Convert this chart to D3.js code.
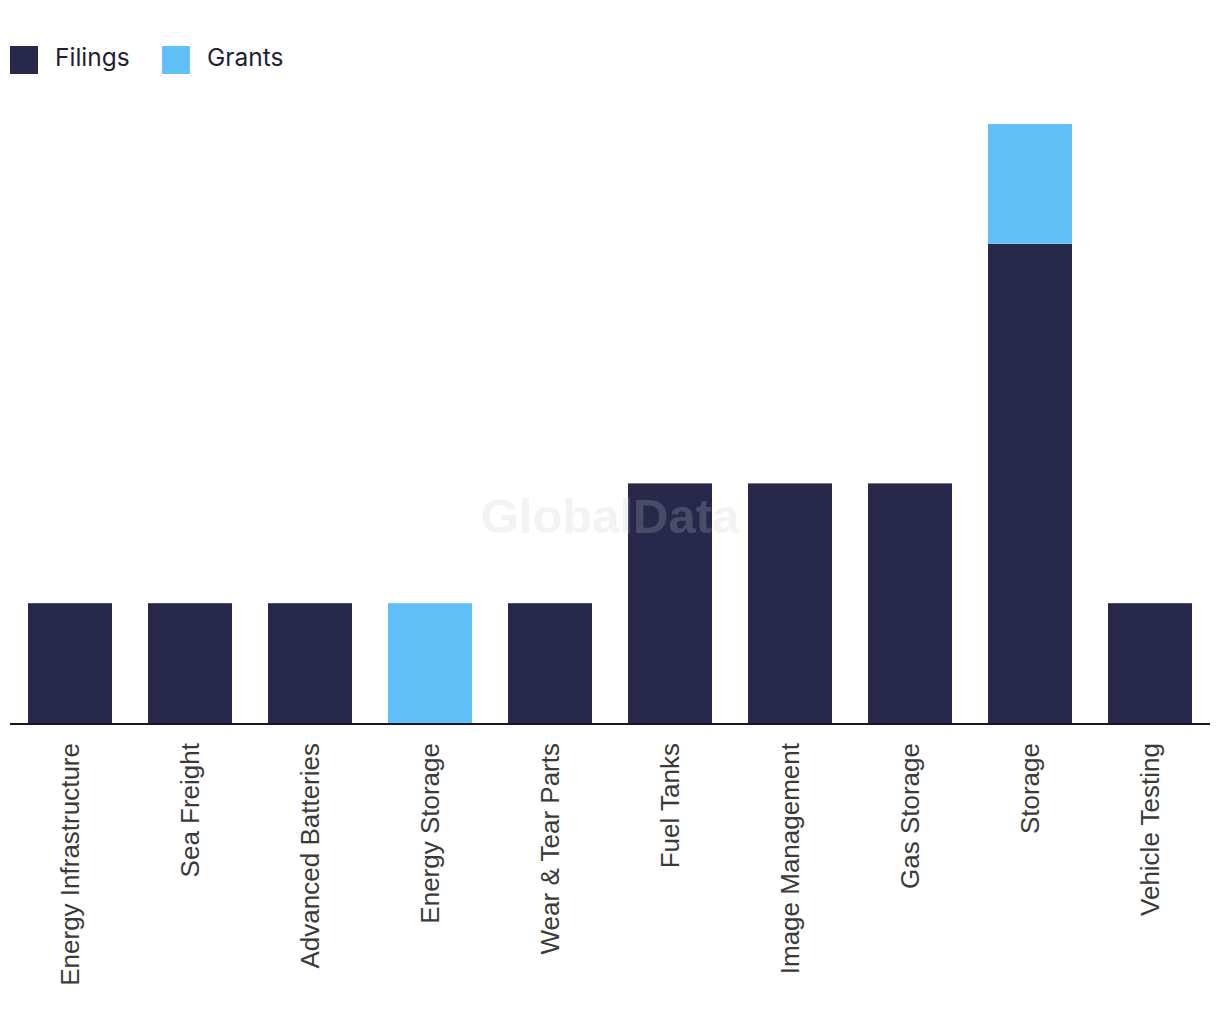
<!DOCTYPE html>
<html>
<head>
<meta charset="utf-8">
<script src="https://cdn.jsdelivr.net/npm/d3@7"></script>
<style>
  body { margin: 0; background: #fff; }
  svg { display: block; }
</style>
</head>
<body>
<svg id="chart" width="1220" height="1036"></svg>
<script>
const categories = ["Energy Infrastructure", "Sea Freight", "Advanced Batteries", "Energy Storage", "Wear & Tear Parts", "Fuel Tanks", "Image Management", "Gas Storage", "Storage", "Vehicle Testing"];
const filings = [1, 1, 1, 0, 1, 2, 2, 2, 4, 1];
const grants = [0, 0, 0, 1, 0, 0, 0, 0, 1, 0];
const seriesNames = ["Filings", "Grants"];
const seriesColors = ["#27284a", "#62c0f9"];

(function () {
const svg = d3.select("#chart");
const plotLeft = 10, plotRight = 1210, plotTop = 124, plotBottom = 723;

const x = d3.scaleBand().domain(categories).range([plotLeft, plotRight]).paddingInner(0.3).paddingOuter(0.15);
const y = d3.scaleLinear().domain([0, 5]).range([plotBottom, plotTop]);

const rows = categories.map((c, i) => ({ cat: c, Filings: filings[i], Grants: grants[i] }));
const stack = d3.stack().keys(seriesNames)(rows);
const color = d3.scaleOrdinal().domain(seriesNames).range(seriesColors);

svg.append("g").selectAll("g").data(stack).join("g")
  .attr("fill", d => color(d.key))
  .selectAll("rect").data(d => d.filter(p => p[1] > p[0])).join("rect")
  .attr("x", d => x(d.data.cat))
  .attr("width", x.bandwidth())
  .attr("y", d => y(d[1]))
  .attr("height", d => y(d[0]) - y(d[1]));

// watermark
svg.append("text")
  .attr("x", 610).attr("y", 533)
  .attr("text-anchor", "middle")
  .attr("font-family", "Liberation Sans, Arial, sans-serif")
  .attr("font-weight", "bold")
  .attr("font-size", 49)
  .attr("fill", "rgb(200,200,205)")
  .attr("fill-opacity", 0.22)
  .text("GlobalData");

// x axis
const xAxis = svg.append("g").attr("transform", `translate(0,${plotBottom})`)
  .call(d3.axisBottom(x).tickSize(0).tickPadding(0));
xAxis.select(".domain").attr("stroke", "#15162a").attr("stroke-width", 2).attr("d", `M${plotLeft},1H${plotRight}`);
xAxis.selectAll(".tick text")
  .attr("transform", "rotate(-90)")
  .attr("text-anchor", "end")
  .attr("x", -20)
  .attr("y", 0)
  .attr("dy", "0.35em")
  .attr("font-family", "Liberation Sans, Arial, sans-serif")
  .attr("font-size", 26)
  .attr("fill", "#3a3a3a");

// legend
const legend = svg.append("g");
const legendX = [10, 162];
seriesNames.forEach((s, i) => {
  legend.append("rect").attr("x", legendX[i]).attr("y", 46).attr("width", 28).attr("height", 28).attr("fill", seriesColors[i]);
  legend.append("text").attr("x", legendX[i] + 45).attr("y", 66)
    .attr("font-family", "Inter, Lato, sans-serif")
    .attr("font-size", 24.5)
    .attr("fill", "#1e1f33")
    .text(s);
});
})();
</script>
</body>
</html>
